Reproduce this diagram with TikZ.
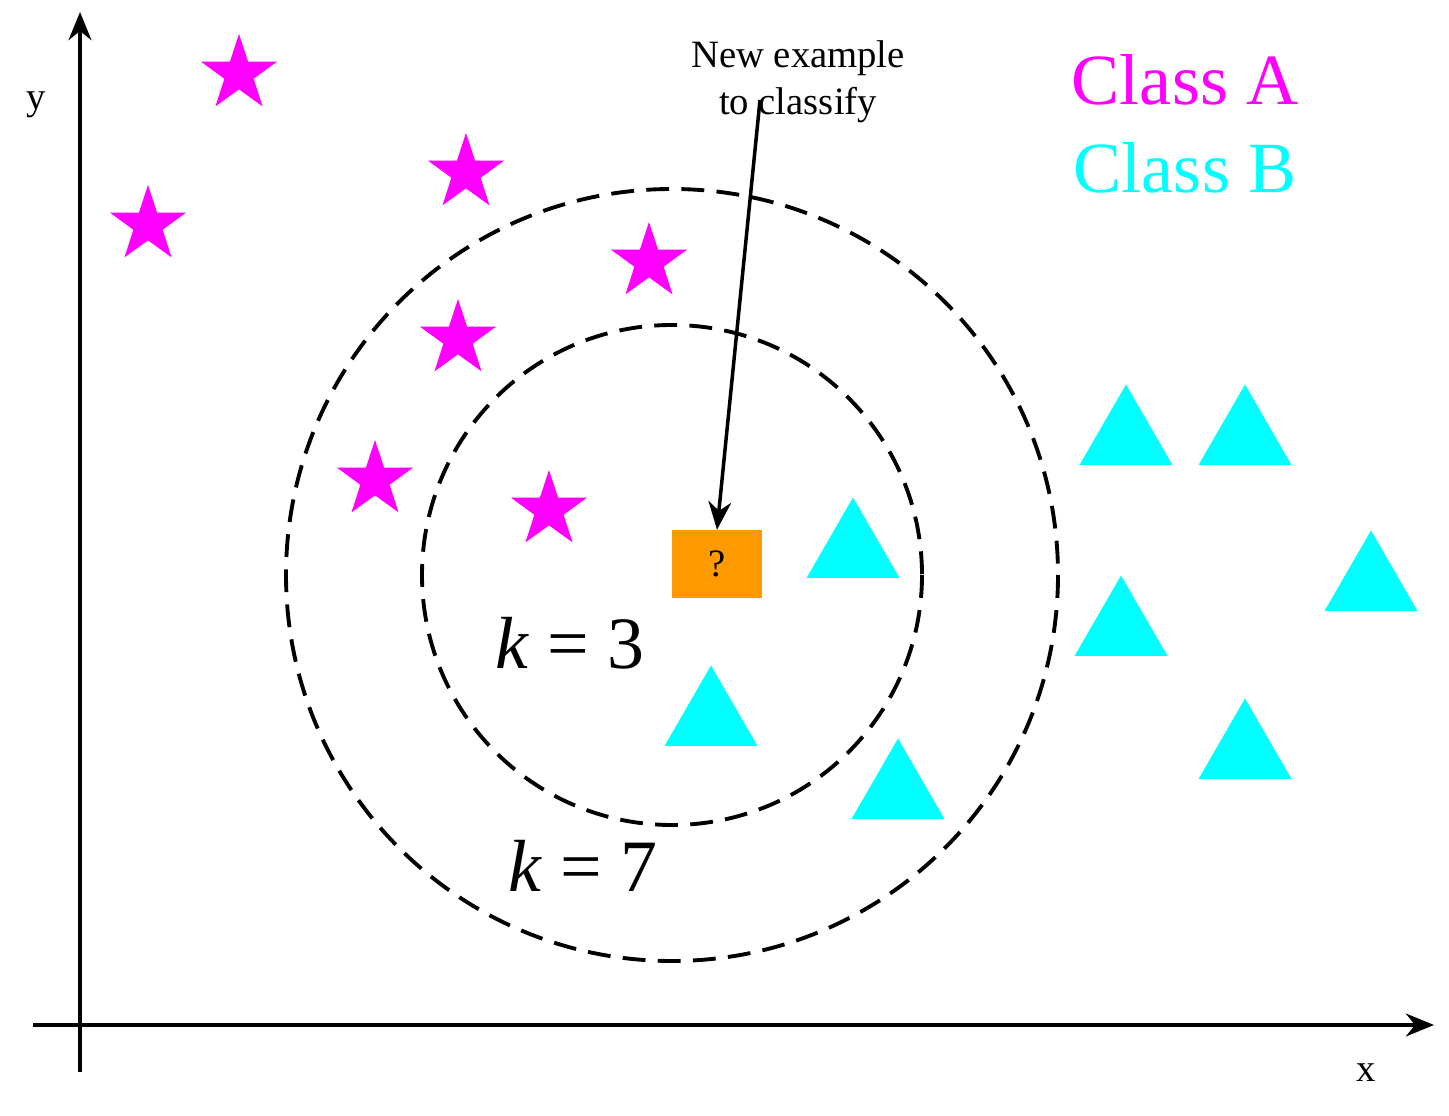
\documentclass[tikz,border=0pt]{standalone}
\usepackage{fontspec}
\setmainfont{Liberation Serif}
\usetikzlibrary{shapes.geometric,arrows.meta}
\definecolor{mag}{RGB}{255,0,255}
\definecolor{cya}{RGB}{0,255,255}
\definecolor{org}{RGB}{255,153,0}
\begin{document}
\begin{tikzpicture}[x=0.01cm,y=-0.01cm,
  starA/.style={star,star points=5,star point ratio=2.6,fill=mag,draw=none,minimum size=0.8cm,inner sep=0},
  triB/.style={regular polygon,regular polygon sides=3,fill=cya,draw=none,minimum size=1.07cm,inner sep=0},
  ring/.style={draw,line width=1.1pt,dash pattern=on 6.5pt off 3.5pt},
  axis/.style={line width=1.1pt,-{Stealth[length=8pt,width=6.5pt]}}]
\useasboundingbox (0,0) rectangle (1449,1116);
\coordinate (yb) at (80,1072); \coordinate (yt) at (80,12);
\coordinate (xl) at (33,1025); \coordinate (xr) at (1434,1025);
\draw[axis] (yb) -- (yt);
\draw[axis] (xl) -- (xr);
\node (ylab) at (36,105) {\fontsize{11pt}{12pt}\selectfont y};
\node (xlab) at (1366,1073) {\fontsize{11pt}{12pt}\selectfont x};
\coordinate (c) at (672,575);
\draw[ring] (c) circle[radius=250];
\draw[ring] (c) circle[radius=386];
\foreach \n/\p in {s1/{(239,74)},s2/{(148,225)},s3/{(466,173)},s4/{(649,262)},s5/{(458,339)},s6/{(375,480)},s7/{(549,510)}}
  \node[starA] (\n) at \p {};
\foreach \n/\p in {t1/{(1126,438)},t2/{(1245,438)},t3/{(1371,584)},t4/{(1121,629)},t5/{(853,551)},t6/{(711,719)},t7/{(898,792)},t8/{(1245,752)}}
  \node[triB] (\n) at \p {};
\node[fill=org,minimum width=0.9cm,minimum height=0.67cm,inner sep=0] (q) at (717,564) {\fontsize{11pt}{12pt}\selectfont ?};
\node[align=center,font=\fontsize{11pt}{13.5pt}\selectfont] (lab) at (798,82) {New example\\to classify};
\coordinate (as) at (760,100);
\draw[line width=1pt,-{Stealth[length=8pt,width=6.5pt]}] (as) -- (q.north);
\node[mag,font=\fontsize{20.5pt}{24pt}\selectfont] (ca) at (1185,80) {Class A};
\node[cya,font=\fontsize{20.5pt}{24pt}\selectfont] (cb) at (1185,168) {Class B};
\node[font=\fontsize{21pt}{24pt}\selectfont] (k3) at (570,643) {\textit{k} = 3};
\node[font=\fontsize{21pt}{24pt}\selectfont] (k7) at (583,866) {\textit{k} = 7};
\end{tikzpicture}
\end{document}
